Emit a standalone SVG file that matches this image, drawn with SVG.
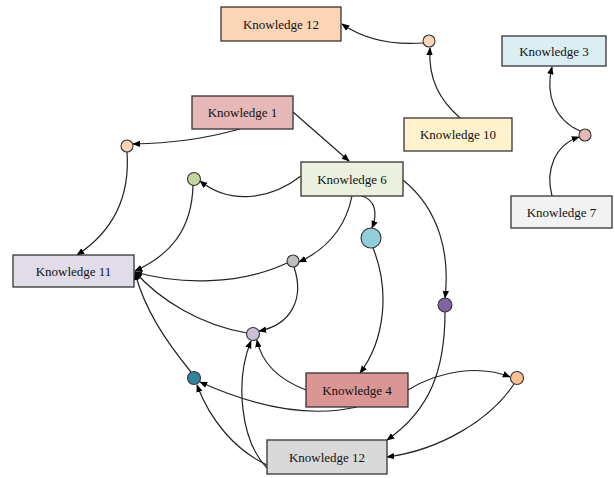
<svg xmlns="http://www.w3.org/2000/svg" width="615" height="478" viewBox="0 0 615 478">
<style>
.n rect{stroke:#333;stroke-width:1.3}
.n text{font-family:"Liberation Serif",serif;font-size:13px;fill:#111;text-anchor:middle;dominant-baseline:central}
.c circle{stroke:#333;stroke-width:1.1}
#edges path{fill:none;stroke:#222;stroke-width:1.2;marker-end:url(#a)}
</style>
<defs>
<marker id="a" viewBox="0 0 10 10" refX="9" refY="5" markerWidth="8" markerHeight="8" markerUnits="userSpaceOnUse" orient="auto">
<path d="M0,1 L10,5 L0,9 z" fill="#000"/>
</marker>
</defs>
<rect width="615" height="478" fill="#fff"/>
<g id="edges">
<path d="M423,43 C395,45 365,40 342,24"/>
<path d="M460,118 C440,100 428,80 430,48"/>
<path d="M552,196 C545,170 555,145 579,137"/>
<path d="M580,131 C555,120 545,95 552,67"/>
<path d="M293,112 L349,161"/>
<path d="M240,129 C200,140 170,143 133,144"/>
<path d="M127,152 C130,195 115,230 77,255"/>
<path d="M301,176 C270,200 230,205 200,181"/>
<path d="M193,185 C192,230 170,255 135,271"/>
<path d="M352,196 C345,230 325,250 299,262"/>
<path d="M287,263 C240,285 180,285 135,272"/>
<path d="M294,267 C305,300 290,325 259,331"/>
<path d="M247,333 C200,325 160,300 135,272"/>
<path d="M191,372 C165,340 145,310 135,273"/>
<path d="M362,196 C375,200 378,213 372,228"/>
<path d="M373,248 C390,290 385,340 360,373"/>
<path d="M403,180 C440,210 450,255 445,298"/>
<path d="M445,312 C445,370 430,410 387,440"/>
<path d="M408,390 C440,370 480,365 510,377"/>
<path d="M514,384 C490,420 440,450 387,457"/>
<path d="M306,390 C280,380 262,365 257,340"/>
<path d="M357,407 C300,420 240,400 200,382"/>
<path d="M267,465 C235,450 210,420 197,385"/>
<path d="M267,468 C240,440 235,380 251,341"/>
</g>
<g id="k12a" class="n"><rect x="221" y="7" width="120" height="34" fill="#fbd5b5"/><text x="281" y="24">Knowledge 12</text></g>
<g id="k1" class="n"><rect x="192" y="96" width="101" height="33" fill="#e6b9b8"/><text x="242.5" y="112.5">Knowledge 1</text></g>
<g id="k10" class="n"><rect x="404" y="118" width="108" height="33" fill="#fff2cc"/><text x="458" y="134.5">Knowledge 10</text></g>
<g id="k3" class="n"><rect x="502" y="36" width="104" height="30" fill="#dbeef4"/><text x="554" y="51">Knowledge 3</text></g>
<g id="k7" class="n"><rect x="511" y="196" width="101" height="32" fill="#f2f2f2"/><text x="561.5" y="212">Knowledge 7</text></g>
<g id="k6" class="n"><rect x="301" y="162" width="102" height="34" fill="#ebf1de"/><text x="352" y="179">Knowledge 6</text></g>
<g id="k11" class="n"><rect x="13" y="255" width="121" height="32" fill="#e0dcea"/><text x="73.5" y="271">Knowledge 11</text></g>
<g id="k4" class="n"><rect x="306" y="373" width="102" height="34" fill="#da9694"/><text x="357" y="390">Knowledge 4</text></g>
<g id="k12b" class="n"><rect x="267" y="440" width="120" height="34" fill="#d9d9d9"/><text x="327" y="457">Knowledge 12</text></g>
<g id="c1" class="c"><circle cx="429" cy="41" r="6" fill="#fbd5b5"/></g>
<g id="c2" class="c"><circle cx="585" cy="135" r="6" fill="#e6b9b8"/></g>
<g id="c3" class="c"><circle cx="127" cy="146" r="6" fill="#fbd5b5"/></g>
<g id="c4" class="c"><circle cx="194" cy="179" r="6.5" fill="#c3d69b"/></g>
<g id="c5" class="c"><circle cx="293" cy="261" r="6" fill="#bfbfbf"/></g>
<g id="c6" class="c"><circle cx="371" cy="238" r="10" fill="#92cddc"/></g>
<g id="c7" class="c"><circle cx="445" cy="305" r="7" fill="#8064a2"/></g>
<g id="c8" class="c"><circle cx="253" cy="334" r="6.5" fill="#ccc1da"/></g>
<g id="c9" class="c"><circle cx="194" cy="378" r="6.5" fill="#31859c"/></g>
<g id="c10" class="c"><circle cx="517" cy="378" r="6.5" fill="#fac090"/></g>
</svg>
